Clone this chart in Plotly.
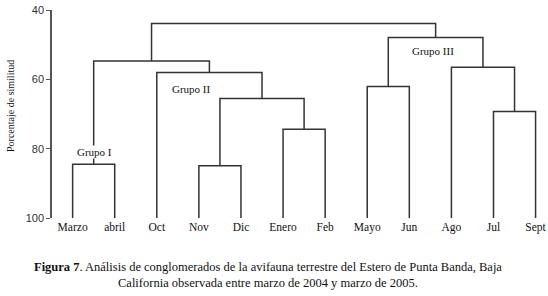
import plotly.graph_objects as go

# Leaves (order along the x axis)
leaves = ["Marzo", "abril", "Oct", "Nov", "Dic", "Enero", "Feb",
          "Mayo", "Jun", "Ago", "Jul", "Sept"]

# Merges: (left cluster, right cluster, similarity %); Ck = result of merge k
merge_left = ["Marzo", "Nov", "Enero", "C2", "Oct", "C1", "Mayo", "Jul", "Ago", "C7", "C6"]
merge_right = ["abril", "Dic", "Feb", "C3", "C4", "C5", "Jun", "Sept", "C8", "C9", "C10"]
merge_height = [84.5, 84.9, 74.4, 65.5, 58.0, 54.7, 62.1, 69.3, 56.5, 47.9, 43.9]

y_ticks = [40, 60, 80, 100]
group_labels = ["Grupo I", "Grupo II", "Grupo III"]
group_x = [0.51, 2.82, 8.57]
group_y = [80.9, 62.8, 51.8]

# cluster positions: leaves at 0..n-1 with height 100
pos = {name: (i, 100.0) for i, name in enumerate(leaves)}
xs, ys = [], []
for k, (a, b, h) in enumerate(zip(merge_left, merge_right, merge_height), start=1):
    xa, ha = pos[a]
    xb, hb = pos[b]
    xs += [xa, xa, xb, xb, None]
    ys += [ha, h, h, hb, None]
    pos["C%d" % k] = ((xa + xb) / 2.0, h)

ML, MR, MT, MB = 52, 4, 10, 78
W, H = 548, 296
pw, ph = W - ML - MR, H - MT - MB


def px_x(x):
    return (x - ML) / pw


def px_y(y):
    return (H - MB - y) / ph


fig = go.Figure()
fig.add_trace(go.Scatter(x=xs, y=ys, mode="lines",
                         line=dict(color="#333333", width=1.5),
                         hoverinfo="skip", showlegend=False))

for t, gx, gy in zip(group_labels, group_x, group_y):
    fig.add_annotation(x=gx, y=gy, text=t, showarrow=False,
                       xanchor="center", yanchor="middle",
                       font=dict(family="Liberation Serif", size=11, color="#111111"),
                       bgcolor="white", borderpad=0)

fig.add_annotation(xref="paper", yref="paper", x=px_x(10), y=px_y(106),
                   xanchor="center", yanchor="middle",
                   text="Porcentaje de similitud", textangle=-90, showarrow=False,
                   font=dict(family="Liberation Serif", size=10, color="#111111"))

fig.add_annotation(xref="paper", yref="paper", x=px_x(268), y=px_y(267),
                   xanchor="center", yanchor="middle",
                   text="<b>Figura 7</b>. Análisis de conglomerados de la avifauna terrestre del Estero de Punta Banda, Baja",
                   showarrow=False, font=dict(family="Liberation Serif", size=12.5, color="#111111"))
fig.add_annotation(xref="paper", yref="paper", x=px_x(268), y=px_y(283),
                   xanchor="center", yanchor="middle",
                   text="California observada entre marzo de 2004 y marzo de 2005.",
                   showarrow=False, font=dict(family="Liberation Serif", size=12.5, color="#111111"))

fig.update_layout(
    width=W, height=H,
    margin=dict(l=ML, r=MR, t=MT, b=MB, autoexpand=False),
    paper_bgcolor="white", plot_bgcolor="white",
    xaxis=dict(range=[-0.49, 11.2], tickmode="array", automargin=False,
               tickvals=list(range(len(leaves))), ticktext=leaves,
               showline=False, showgrid=False, zeroline=False, ticks="",
               tickfont=dict(family="Liberation Serif", size=11.5, color="#111111")),
    yaxis=dict(range=[100, 40], tickmode="array", tickvals=y_ticks, automargin=False,
               showline=True, linecolor="#555555", linewidth=1.5,
               ticks="outside", ticklen=4, tickcolor="#555555",
               showgrid=False, zeroline=False,
               tickfont=dict(family="Liberation Sans", size=11, color="#333333")),
)

fig.write_html("out.html", config={"displayModeBar": False},
               post_script="document.body.style.margin='0';document.body.style.overflow='hidden';")
